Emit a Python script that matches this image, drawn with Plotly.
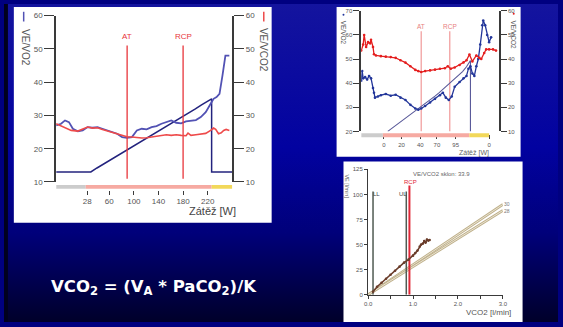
import base64
import plotly.graph_objects as go

FW, FH = 563, 327


def px(x):
    return x / FW


def py(y):
    return 1 - y / FH


# ---------------- Left chart (x = load in W) ----------------
ramp_w = [-26.4, 30, 40, 50, 60, 70, 80, 90, 100, 110, 120, 130, 140, 150, 160, 170, 180, 190, 200,
          210, 220, 226.4, 226.4, 260]
ramp_v = [13, 13, 14.2, 15.3, 16.4, 17.5, 18.6, 19.8, 20.8, 22.0, 23.1, 24.1, 25.3, 26.4, 27.5, 28.6,
          29.8, 30.9, 32.0, 33.2, 34.3, 35.0, 13, 13]

vo2_w = [-26.4, -18.4, -12, -5.6, 0.8, 8.8, 16.8, 24.8, 32.8, 40.8, 48.8, 56.8, 64.8, 72.8, 80.8,
         88.8, 96.8, 104.8, 112.8, 120.8, 128.8, 136.8, 144.8, 152.8, 160.8, 168.8, 176.8, 184.8,
         192.8, 200.8, 208.8, 216.8, 224.8, 229.6, 234.4, 239.2, 244, 248.8, 255.2]
ve_vo2 = [27, 27.5, 28.5, 28, 26, 25.2, 25.5, 26.5, 26.3, 26.5, 26, 25.5, 25.2, 24.5, 23.5,
          23.3, 23.5, 25.5, 26, 25.8, 26.5, 26.8, 27.5, 28, 28.5, 27.8, 27.6, 28.2,
          28.3, 28.6, 29.5, 31, 33.5, 35, 35.5, 36.5, 42, 48, 48]

vco2_w = [-26.4, -18.4, -10, -2, 8.8, 16.8, 24.8, 32.8, 40.8, 48.8, 56.8, 64.8, 72.8, 80.8, 88.8,
          96.8, 104.8, 112.8, 120.8, 128.8, 136.8, 144.8, 152.8, 160.8, 168.8, 176.8, 184.8, 188,
          192.8, 200.8, 208.8, 216.8, 224.8, 229.6, 233, 237.6, 242, 246, 250, 255.2]
ve_vco2 = [27.5, 26.8, 26.2, 25.5, 25.3, 25.8, 26.5, 26.2, 26.3, 25.8, 25.4, 25.0, 24.6, 24.0, 23.6,
           23.5, 23.3, 23.2, 23.3, 23.5, 23.6, 24.0, 24.2, 24.0, 24.2, 24.0, 23.9, 24.7,
           24.0, 24.2, 24.3, 24.6, 25.5, 26.2, 25.8, 24.5, 24.8, 25.5, 25.8, 25.5]

left_markers = {"AT": 89, "RCP": 180}
left_phases = [-26.4, 21.6, 226.4, 260]
left_xticks = [24, 60, 100, 140, 180, 220]
left_xticktext = ["28", "60", "100", "140", "180", "220"]
left_yticks = [10, 20, 30, 40, 50, 60]

# ---------------- Top-right chart ----------------
tr_ramp_t = [27, 31, 35, 39, 43, 47, 51, 55, 59, 63, 67, 71, 75, 79, 83, 87, 91, 95, 99, 103, 107,
             111, 111]
tr_ramp_v = [20, 21.2, 22.4, 23.8, 25.0, 26.2, 27.4, 28.6, 29.6, 30.8, 32.0, 33.4, 34.6, 36.0, 37.4,
             38.8, 40.2, 41.6, 43.0, 44.8, 46.8, 49.4, 20]

tr_vo2_t = [0, 1, 2, 4, 6, 8, 10, 12, 13, 14, 17, 20, 25, 30, 35, 40, 45, 50, 55, 58, 61, 65, 70,
            75, 80, 83, 86, 89, 92, 95, 100, 104, 107, 109, 111, 113, 115, 117, 119, 121, 123,
            124, 126, 128, 130, 132]
tr_ve_vo2 = [41, 45, 42, 42.5, 41.5, 43, 42, 38, 36, 34, 34.5, 35, 35.5, 34.8, 35.2, 34, 33, 31,
             29.5, 29, 29.5, 30.5, 32, 33.5, 35, 36, 34, 33, 34.5, 38.5, 40.5, 42, 43, 46, 47,
             44, 43, 47, 50, 56, 64, 66, 64, 60, 57, 59]

tr_vco2_t = [0, 2, 3, 5, 7, 9, 10, 12, 13, 15, 20, 25, 30, 35, 40, 45, 50, 55, 58, 61, 65, 70, 75,
             80, 85, 88, 91, 95, 100, 104, 107, 110, 113, 117, 120, 122, 125, 127, 130, 134, 137]
tr_ve_vco2 = [43.5, 46, 50, 45, 47, 46.5, 48, 45, 42, 41.5, 41.2, 41, 40.8, 40.5, 39.5, 38.5, 37,
              35.5, 35, 34.6, 35, 35.3, 35.6, 36, 36.2, 37, 36, 36.5, 37.5, 38.6, 39.5, 41.9, 39,
              41.5, 40.5, 40, 42.5, 44, 44, 44, 43.5]

tr_markers = {"AT": 61, "RCP": 90}
tr_phases = [0, 22, 110, 130]
tr_xticks = [23, 41, 60, 77, 96, 130]
tr_xticktext = ["0", "20", "40", "70", "95", "0"]
tr_left_ticks = [20, 30, 40, 50, 60, 70]
tr_right_ticks = [10, 20, 30, 40, 50, 60]

# ---------------- Bottom-right chart ----------------
br_vco2 = [0.11, 0.2, 0.3, 0.4, 0.5, 0.6, 0.7, 0.8, 0.9, 1.0, 1.05, 1.1, 1.15, 1.18, 1.22, 1.25,
           1.28, 1.31, 1.34, 1.37]
br_ve = [3, 8, 12, 16, 20, 24, 28, 32, 35, 39, 41.5, 44, 48, 50, 51, 53.5, 52, 55, 54, 54.5]
br_slopes = [30, 28]
br_lines = {"LL": 0.11, "UL": 0.85}
br_rcp = 0.92
br_title = "VE/VCO2 sklon: 33.9"

# ---------------- colours ----------------
NAVY = "#23237e"
BLUE = "#5252b4"
RED = "#ee4a4a"
PINK = "#f2a0a0"
AX = "#3a3a3a"
TXT = "#555555"

fig = go.Figure()

# left chart traces
fig.add_trace(go.Scatter(x=ramp_w, y=ramp_v, mode="lines", line=dict(color=NAVY, width=1.5),
                         xaxis="x", yaxis="y"))
fig.add_trace(go.Scatter(x=vco2_w, y=ve_vco2, mode="lines", line=dict(color=RED, width=1.6),
                         xaxis="x", yaxis="y2"))
fig.add_trace(go.Scatter(x=vo2_w, y=ve_vo2, mode="lines", line=dict(color=BLUE, width=1.8),
                         xaxis="x", yaxis="y"))
for name, w in left_markers.items():
    fig.add_trace(go.Scatter(x=[w, w], y=[11, 51], mode="lines", line=dict(color="#e8353a", width=1.3),
                             xaxis="x", yaxis="y"))

# top-right traces
for name, t in tr_markers.items():
    fig.add_trace(go.Scatter(x=[t, t], y=[20, 61.5], mode="lines", line=dict(color=PINK, width=1.3),
                             xaxis="x2", yaxis="y3"))
fig.add_trace(go.Scatter(x=tr_ramp_t, y=tr_ramp_v, mode="lines",
                         line=dict(color="#5a5a9a", width=1.1), xaxis="x2", yaxis="y3"))
fig.add_trace(go.Scatter(x=tr_vco2_t, y=tr_ve_vco2, mode="lines+markers",
                         line=dict(color="#e41e1e", width=1.3), marker=dict(size=2.6, color="#e41e1e"),
                         xaxis="x2", yaxis="y4"))
fig.add_trace(go.Scatter(x=tr_vo2_t, y=tr_ve_vo2, mode="lines+markers",
                         line=dict(color="#23369a", width=1.3), marker=dict(size=2.6, color="#23369a"),
                         xaxis="x2", yaxis="y3"))

# bottom-right traces
for s in br_slopes:
    fig.add_trace(go.Scatter(x=[0, 3.0], y=[0, 3.0 * s], mode="lines",
                             line=dict(color="#bfb08a", width=2.6), xaxis="x3", yaxis="y5"))
    fig.add_trace(go.Scatter(x=[0, 3.0], y=[0, 3.0 * s], mode="lines",
                             line=dict(color="#f4f0e4", width=0.8), xaxis="x3", yaxis="y5"))
for name, v in br_lines.items():
    fig.add_trace(go.Scatter(x=[v, v], y=[0, 103], mode="lines", line=dict(color="#4f5a52", width=1.5),
                             xaxis="x3", yaxis="y5"))
fig.add_trace(go.Scatter(x=[br_rcp, br_rcp], y=[0, 109], mode="lines", line=dict(color="#e02838", width=2),
                         xaxis="x3", yaxis="y5"))
fig.add_trace(go.Scatter(x=br_vco2, y=br_ve, mode="lines+markers", line=dict(color="#6a3c2a", width=1.6),
                         marker=dict(size=2.6, color="#6a3c2a"), xaxis="x3", yaxis="y5"))

axis_common = dict(showgrid=False, zeroline=False, tickfont=dict(family="Liberation Sans", size=8, color=TXT))
small_font = dict(family="Liberation Sans", size=6, color=TXT)

# background gradient
svg = ('<svg xmlns="http://www.w3.org/2000/svg" width="563" height="327" preserveAspectRatio="none">'
       '<defs><linearGradient id="g" x1="0" y1="0" x2="0" y2="1">'
       '<stop offset="0" stop-color="#14149e"/><stop offset="0.45" stop-color="#0202a0"/>'
       '<stop offset="0.72" stop-color="#00007a"/><stop offset="1" stop-color="#00002a"/>'
       '</linearGradient></defs><rect width="563" height="327" fill="url(#g)"/></svg>')
svg_uri = "data:image/svg+xml;base64," + base64.b64encode(svg.encode()).decode()

shapes = []
# white panels
for (x0, y0, x1, y1) in [(10, 3, 272, 225), (338, 3, 525, 157), (345, 162, 527, 327)]:
    shapes.append(dict(type="rect", xref="paper", yref="paper", x0=px(x0), x1=px(x1), y0=py(y1), y1=py(y0),
                       fillcolor="white", line=dict(width=0), layer="below"))
shapes.append(dict(type="rect", xref="paper", yref="paper", x0=0, x1=px(4), y0=0, y1=1,
                   fillcolor="#00001e", line=dict(width=0), layer="below"))
# phase bars
phase_cols = ["#cccccc", "#f6aaa2", "#f2d85a"]
for i in range(3):
    shapes.append(dict(type="rect", xref="x", yref="paper", x0=left_phases[i], x1=left_phases[i + 1],
                       y0=py(190), y1=py(186), fillcolor=phase_cols[i], line=dict(width=0)))
    shapes.append(dict(type="rect", xref="x2", yref="paper", x0=tr_phases[i], x1=tr_phases[i + 1],
                       y0=py(137), y1=py(133), fillcolor=phase_cols[i], line=dict(width=0)))
# legend swatches near axis titles
shapes.append(dict(type="line", xref="paper", yref="paper", x0=px(20), x1=px(20), y0=py(18), y1=py(8),
                   line=dict(color=BLUE, width=1.5)))
shapes.append(dict(type="line", xref="paper", yref="paper", x0=px(264), x1=px(264), y0=py(18), y1=py(8),
                   line=dict(color=RED, width=1.5)))
shapes.append(dict(type="circle", xref="paper", yref="paper", x0=px(344), x1=px(346), y0=py(12), y1=py(10),
                   fillcolor="#23369a", line=dict(width=0)))
shapes.append(dict(type="circle", xref="paper", yref="paper", x0=px(517), x1=px(519), y0=py(11), y1=py(9),
                   fillcolor="#e41e1e", line=dict(width=0)))


def ann(text, x, y, size=8, color=TXT, angle=0, xanchor="center", family="Liberation Sans"):
    return dict(text=text, x=px(x), y=py(y), xref="paper", yref="paper", showarrow=False,
                xanchor=xanchor, yanchor="middle", textangle=angle,
                font=dict(family=family, size=size, color=color))


annotations = [
    ann("VE/VO2", 22, 45, size=10, angle=90),
    ann("VE/VCO2", 264, 47, size=10, angle=90),
    ann("AT", 125, 33, size=8, color="#e8353a"),
    ann("RCP", 182, 33, size=8, color="#e8353a"),
    ann("Zátěž [W]", 212, 213, size=11, color="#444"),
    ann("VE/VO2", 345, 30, size=6.5, angle=90),
    ann("VE/VCO2", 518, 32, size=6.5, angle=90),
    ann("AT", 424, 23, size=6.5, color="#e88080"),
    ann("RCP", 453, 23, size=6.5, color="#e88080"),
    ann("Zátěž [W]", 478, 153, size=7, color="#666"),
    ann(br_title, 445, 175, size=6, color="#666"),
    ann("VE [l/min]", 349, 188, size=5.5, angle=90),
    ann("LL", 379, 195, size=6, color="#444"),
    ann("UL", 405, 195, size=6, color="#444"),
    ann("RCP", 413, 183, size=6, color="#e02838"),
    ann("VCO2 [l/min]", 492, 317, size=8, color="#555"),
    ann("30", 511, 206, size=5, color="#777"),
    ann("28", 511, 213, size=5, color="#777"),
    ann("<b>VCO<sub>2</sub> = (V<sub>A</sub> * PaCO<sub>2</sub>)/K</b>", 152, 292, size=16.5, color="white",
        family="DejaVu Sans"),
]

fig.update_layout(
    width=FW, height=FH, autosize=False, margin=dict(l=0, r=0, t=0, b=0),
    showlegend=False, paper_bgcolor="#000080", plot_bgcolor="rgba(0,0,0,0)",
    images=[dict(source=svg_uri, xref="paper", yref="paper", x=0, y=1, sizex=1, sizey=1,
                 xanchor="left", yanchor="top", sizing="stretch", layer="below")],
    shapes=shapes, annotations=annotations,
    # left chart
    xaxis=dict(domain=[px(53), px(232)], range=[-26.4, 260], anchor="free", position=py(191),
               showline=False, ticks="outside", ticklen=4, tickcolor=AX, tickwidth=1.2,
               tickvals=left_xticks, ticktext=left_xticktext, **axis_common),
    yaxis=dict(domain=[py(183), py(12)], range=[10, 60], anchor="x", showline=True, linecolor=AX,
               linewidth=1.6, ticks="outside", ticklen=10, tickcolor=AX, tickwidth=1.4,
               tickvals=left_yticks, **axis_common),
    yaxis2=dict(range=[10, 60], overlaying="y", side="right", anchor="x", showline=True, linecolor=AX,
                linewidth=1.6, ticks="outside", ticklen=10, tickcolor=AX, tickwidth=1.4,
                tickvals=left_yticks, **axis_common),
    # top-right chart
    xaxis2=dict(domain=[px(363), px(503)], range=[0, 140], anchor="free", position=py(134),
                showline=False, ticks="outside", ticklen=4, tickcolor=AX, tickwidth=1,
                tickvals=tr_xticks, ticktext=tr_xticktext,
                showgrid=False, zeroline=False, tickfont=small_font),
    yaxis3=dict(domain=[py(131), py(7)], range=[20, 70], anchor="x2", showline=True, linecolor=AX,
                linewidth=1.5, ticks="outside", ticklen=6, tickcolor=AX, tickwidth=1,
                tickvals=tr_left_ticks, showgrid=False, zeroline=False, tickfont=small_font),
    yaxis4=dict(range=[10, 60], overlaying="y3", side="right", anchor="x2", showline=True, linecolor=AX,
                linewidth=1.5, ticks="outside", ticklen=6, tickcolor=AX, tickwidth=1,
                tickvals=tr_right_ticks, showgrid=False, zeroline=False, tickfont=small_font),
    # bottom-right chart
    xaxis3=dict(domain=[px(370), px(507)], range=[0, 3.0], anchor="y5", showline=True, linecolor=AX,
                linewidth=1.2, ticks="outside", ticklen=3, tickcolor=AX, tickwidth=1,
                tickvals=[0, 1, 2, 3], ticktext=["0.0", "1.0", "2.0", "3.0"],
                minor=dict(ticks="outside", ticklen=3, tickvals=[0.5, 1.5, 2.5], tickcolor=AX),
                showgrid=False, zeroline=False, tickfont=small_font),
    yaxis5=dict(domain=[py(299), py(170)], range=[0, 125], anchor="x3", showline=True, linecolor=AX,
                linewidth=1.2, ticks="outside", ticklen=3, tickcolor=AX, tickwidth=1,
                tickvals=[0, 25, 50, 75, 100, 125], showgrid=False, zeroline=False, tickfont=small_font),
)

fig.write_html("out.html", config={"displayModeBar": False},
               post_script="document.body.style.margin='0';document.body.style.overflow='hidden';")
